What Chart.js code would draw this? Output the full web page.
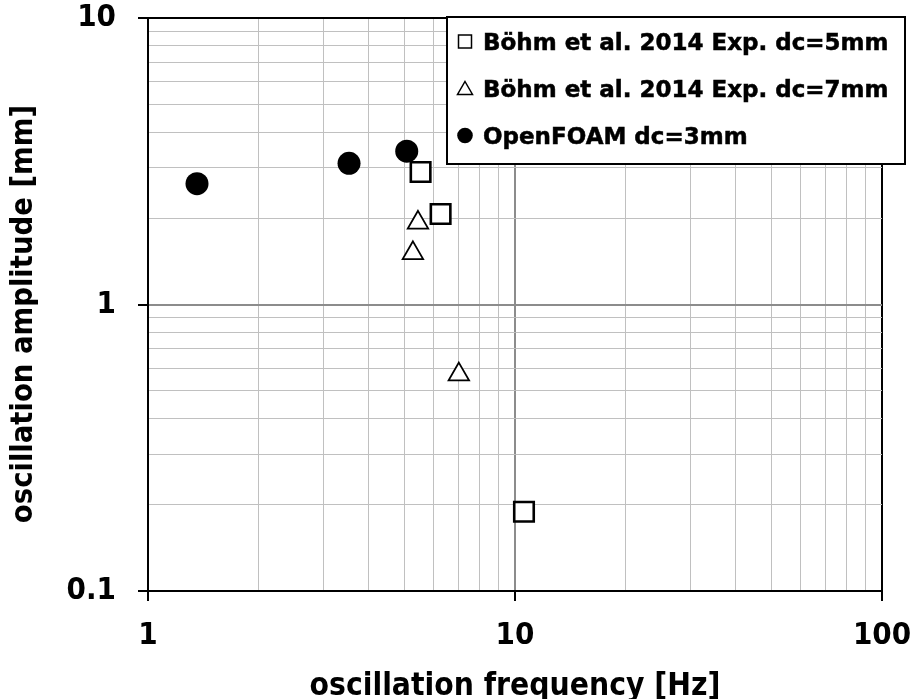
<!DOCTYPE html>
<html><head><meta charset="utf-8">
<script src="https://cdn.jsdelivr.net/npm/chart.js@4/dist/chart.umd.min.js"></script>
<style>html,body{margin:0;padding:0;background:#fff}canvas{display:block}</style>
</head><body>
<canvas id="c" width="919" height="699"></canvas>
<script>
const seriesNames = ['Böhm et al. 2014 Exp. dc=5mm', 'Böhm et al. 2014 Exp. dc=7mm', 'OpenFOAM dc=3mm'];
const exp5Freq = [5.53, 6.27, 10.58];
const exp5Amp  = [2.90, 2.07, 0.189];
const exp7Freq = [5.44, 5.27, 7.03];
const exp7Amp  = [1.93, 1.51, 0.570];
const foamFreq = [1.36, 3.53, 5.07];
const foamAmp  = [2.64, 3.11, 3.43];
const xTickValues = [1, 2, 3, 4, 5, 6, 7, 8, 9, 10, 20, 30, 40, 50, 60, 70, 80, 90, 100];
const yTickValues = [0.1, 0.2, 0.3, 0.4, 0.5, 0.6, 0.7, 0.8, 0.9, 1, 2, 3, 4, 5, 6, 7, 8, 9, 10];
const xTickLabels = { 1: '1', 10: '10', 100: '100' };
const yTickLabels = { 0.1: '0.1', 1: '1', 10: '10' };
const xTitle = 'oscillation frequency [Hz]';
const yTitle = 'oscillation amplitude [mm]  ';

const FONT = '"DejaVu Sans", Verdana, sans-serif';
const CFONT = '"DejaVu Sans Condensed", "DejaVu Sans", sans-serif';
const toPoints = (xs, ys) => xs.map((x, i) => ({ x: x, y: ys[i] }));

const legendPlugin = {
  id: 'boxLegend',
  afterDatasetsDraw(chart) {
    const ctx = chart.ctx, ca = chart.chartArea;
    const L = ca.left + 299, T = ca.top - 1, W = 458, H = 147;
    ctx.save();
    ctx.fillStyle = '#fff';
    ctx.fillRect(L, T, W, H);
    ctx.strokeStyle = '#000';
    ctx.lineWidth = 2;
    ctx.strokeRect(L, T, W, H);
    ctx.font = 'bold 23px ' + FONT;
    ctx.textAlign = 'left';
    ctx.textBaseline = 'alphabetic';
    seriesNames.forEach((name, i) => {
      const cy = T + 24.5 + i * 47;
      const mx = L + 18;
      ctx.lineWidth = 1.5;
      ctx.strokeStyle = '#000';
      ctx.fillStyle = '#000';
      if (i === 0) {
        ctx.fillStyle = '#fff';
        ctx.fillRect(mx - 6.5, cy - 6.5, 13, 13);
        ctx.strokeRect(mx - 6.5, cy - 6.5, 13, 13);
      } else if (i === 1) {
        ctx.beginPath();
        ctx.moveTo(mx, cy - 7);
        ctx.lineTo(mx + 7.5, cy + 6);
        ctx.lineTo(mx - 7.5, cy + 6);
        ctx.closePath();
        ctx.fillStyle = '#fff';
        ctx.fill();
        ctx.stroke();
      } else {
        ctx.beginPath();
        ctx.arc(mx, cy, 7.8, 0, Math.PI * 2);
        ctx.fill();
      }
      ctx.fillStyle = '#000';
      ctx.strokeStyle = '#000';
      ctx.lineWidth = 0.5;
      ctx.fillText(name, L + 36, cy + 8);
      ctx.strokeText(name, L + 36, cy + 8);
    });
    ctx.restore();
  }
};

function gridColorFor(value, edgeVals, midVal) {
  if (edgeVals.includes(value)) return '#000';
  if (value === midVal) return '#8c8c8c';
  return '#c0c0c0';
}

new Chart(document.getElementById('c'), {
  type: 'scatter',
  data: {
    datasets: [
      {
        label: seriesNames[0],
        data: toPoints(exp5Freq, exp5Amp),
        pointStyle: 'rect',
        pointRadius: 13.8,
        backgroundColor: '#fff',
        borderColor: '#000',
        borderWidth: 2.6
      },
      {
        label: seriesNames[1],
        data: toPoints(exp7Freq, exp7Amp),
        pointStyle: 'triangle',
        pointRadius: 11.8,
        backgroundColor: '#fff',
        borderColor: '#000',
        borderWidth: 1.8
      },
      {
        label: seriesNames[2],
        data: toPoints(foamFreq, foamAmp),
        pointStyle: 'circle',
        pointRadius: 11.5,
        backgroundColor: '#000',
        borderColor: '#000',
        borderWidth: 0
      }
    ]
  },
  options: {
    responsive: false,
    devicePixelRatio: 1,
    animation: false,
    events: [],
    layout: { padding: { top: 18, right: 37, left: 0, bottom: 0 } },
    plugins: { legend: { display: false }, tooltip: { enabled: false } },
    scales: {
      x: {
        type: 'logarithmic',
        min: 1, max: 100,
        afterBuildTicks: (s) => { s.ticks = xTickValues.map(v => ({ value: v })); },
        afterFit: (s) => { s.height = 108; s.paddingLeft = 0; s.paddingRight = 0; s.paddingTop = 0; s.paddingBottom = 0; },
        border: { display: true, color: '#000', width: 2 },
        grid: {
          drawOnChartArea: true,
          drawTicks: true,
          tickLength: 10,
          color: (c) => gridColorFor(c.tick ? c.tick.value : null, [1, 100], 10),
          lineWidth: (c) => (c.tick && xTickLabels[c.tick.value] !== undefined) ? 2 : 1,
          tickColor: (c) => (c.tick && xTickLabels[c.tick.value] !== undefined) ? '#000' : 'rgba(0,0,0,0)',
          tickWidth: 2
        },
        ticks: {
          autoSkip: false,
          maxRotation: 0,
          padding: 16,
          color: '#000',
          font: { family: CFONT, size: 31, weight: 'bold' },
          callback: (v) => (xTickLabels[v] !== undefined ? xTickLabels[v] : '')
        },
        title: {
          display: true,
          text: xTitle,
          color: '#000',
          font: { family: CFONT, size: 31.5, weight: 'bold' },
          padding: { top: 0, bottom: -7 }
        }
      },
      y: {
        type: 'logarithmic',
        min: 0.1, max: 10,
        afterBuildTicks: (s) => { s.ticks = yTickValues.map(v => ({ value: v })); },
        afterFit: (s) => { s.width = 148; s.paddingLeft = 0; s.paddingRight = 0; s.paddingTop = 0; s.paddingBottom = 0; },
        border: { display: true, color: '#000', width: 2 },
        grid: {
          drawOnChartArea: true,
          drawTicks: true,
          tickLength: 10,
          color: (c) => gridColorFor(c.tick ? c.tick.value : null, [0.1, 10], 1),
          lineWidth: (c) => (c.tick && yTickLabels[c.tick.value] !== undefined) ? 2 : 1,
          tickColor: (c) => (c.tick && yTickLabels[c.tick.value] !== undefined) ? '#000' : 'rgba(0,0,0,0)',
          tickWidth: 2
        },
        ticks: {
          autoSkip: false,
          padding: 22,
          color: '#000',
          font: { family: CFONT, size: 31, weight: 'bold' },
          callback: (v) => (yTickLabels[v] !== undefined ? yTickLabels[v] : '')
        },
        title: {
          display: true,
          text: yTitle,
          color: '#000',
          font: { family: CFONT, size: 30.6, weight: 'bold' },
          padding: { top: 6, bottom: 0 }
        }
      }
    }
  },
  plugins: [legendPlugin]
});
</script>
</body></html>
